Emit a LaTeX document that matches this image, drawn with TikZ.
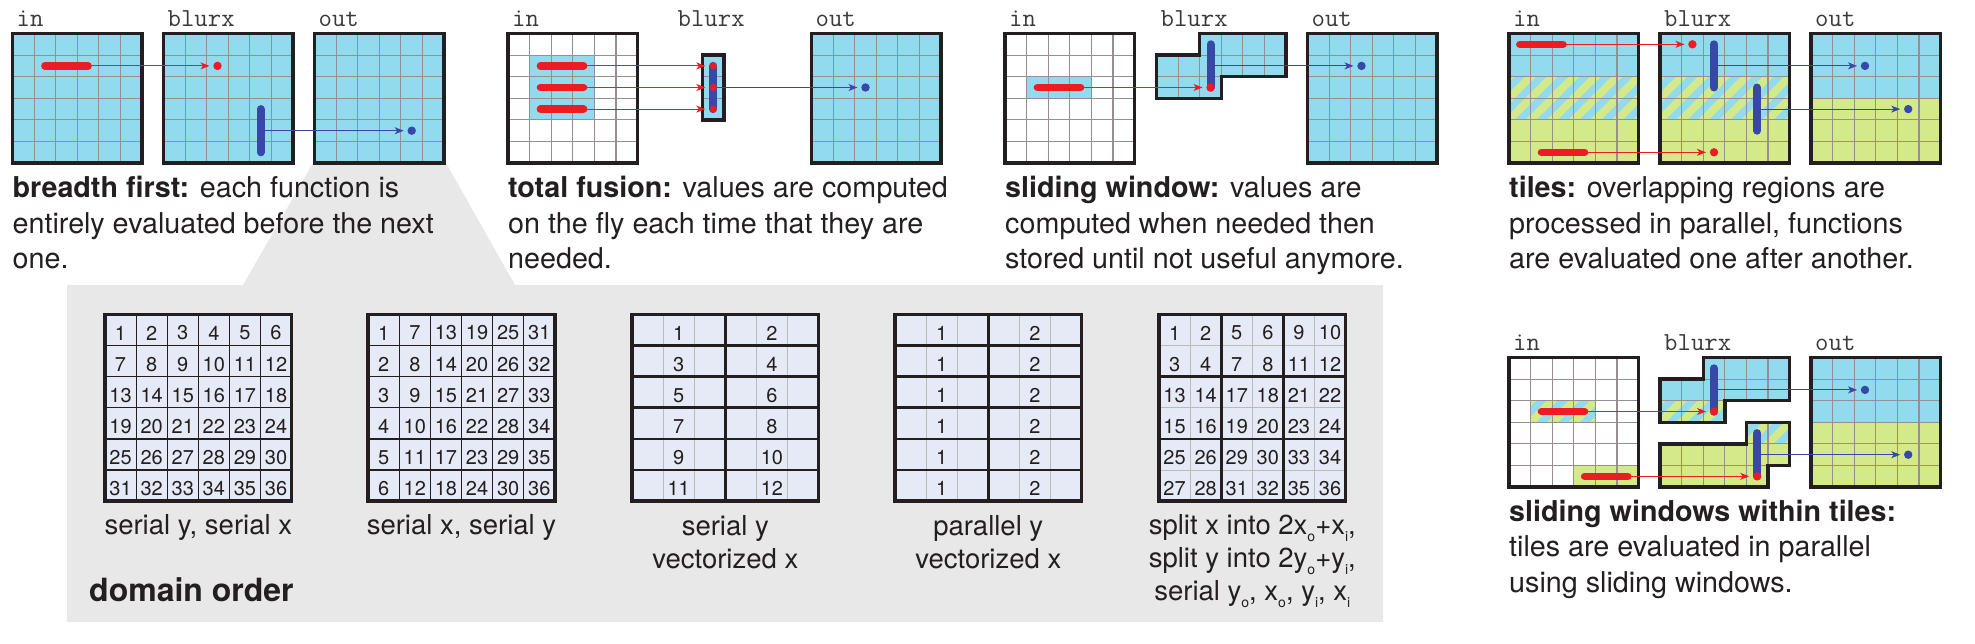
\documentclass[tikz,border=0pt]{standalone}
\usepackage{fontspec}
\setmainfont{TeX Gyre Heros}
\usetikzlibrary{arrows.meta}
\definecolor{lblue}{HTML}{92DAEE}
\definecolor{lgreen}{HTML}{D4EA8A}
\definecolor{redc}{HTML}{ED1C24}
\definecolor{bluec}{HTML}{3848A6}
\definecolor{gridc}{HTML}{978E92}
\definecolor{bord}{HTML}{231F20}
\definecolor{txt}{HTML}{231F20}
\definecolor{labc}{HTML}{3A3A3A}
\definecolor{panelg}{HTML}{E8E8E8}
\definecolor{cellf}{HTML}{E6EAF6}
\definecolor{lightg}{HTML}{BBBBBB}
\newcommand{\myCapFont}{\fontsize{28.7}{35.5}\selectfont}
\newcommand{\myLabFont}{\ttfamily\fontsize{26}{26}\selectfont}
\newcommand{\myNumFont}{\fontsize{20}{20}\selectfont}
\newcommand{\myDcapFont}{\fontsize{27.5}{33}\selectfont}
\newcommand{\myDomFont}{\bfseries\fontsize{32}{32}\selectfont}
\newcommand{\mysub}[1]{\raisebox{-7pt}{\fontsize{14}{14}\selectfont #1}}
% small grid lines
\newcommand{\cOne}{21.6}\newcommand{\cTwo}{43.2}\newcommand{\cThr}{64.8}
\newcommand{\cFou}{86.4}\newcommand{\cFiv}{108}\newcommand{\cSix}{129.6}
% small cell centres
\newcommand{\kOne}{10.8}\newcommand{\kTwo}{32.4}\newcommand{\kThr}{54}
\newcommand{\kFou}{75.6}\newcommand{\kFiv}{97.2}\newcommand{\kSix}{118.8}
% domain grid
\newcommand{\dOne}{31.1}\newcommand{\dTwo}{62.2}\newcommand{\dThr}{93.3}
\newcommand{\dFou}{124.4}\newcommand{\dFiv}{155.5}\newcommand{\dSix}{186.6}
\newcommand{\myglines}{\foreach \i in {\cOne,\cTwo,\cThr,\cFou,\cFiv}{\draw[gline] (\i,0) -- (\i,\cSix); \draw[gline] (0,\i) -- (\cSix,\i);}}
\newcommand{\myborder}{\draw[gborder] (0,0) rectangle (\cSix,\cSix);}
\newcommand{\myhatch}[4]{%
  \begin{scope}
    \clip (#1,#2) rectangle ++(#3,#4);
    \fill[lblue] (#1,#2) rectangle ++(#3,#4);
    \foreach \k in {-4,...,8}{%
      \draw[draw=lgreen, line width=7.8pt] ({#1+\k*21.6-10},{#2+#4+10}) -- ++({#4+20},{-#4-20});
    }
  \end{scope}}
\tikzset{
  gline/.style={draw=gridc, line width=1.1pt},
  gborder/.style={draw=bord, line width=3.4pt},
  rbar/.style={draw=redc, line width=7.5pt, line cap=round},
  bbar/.style={draw=bluec, line width=8pt, line cap=round},
  rarr/.style={draw=redc, line width=1.1pt, -{Stealth[length=9pt,width=7pt,inset=2.5pt]}, shorten >=8pt},
  barr/.style={draw=bluec, line width=1.1pt, -{Stealth[length=9pt,width=7pt,inset=2.5pt]}, shorten >=8pt},
  captxt/.style={anchor=base west, align=left, inner sep=0pt, font=\myCapFont, text=txt},
  labtxt/.style={anchor=base west, inner sep=0pt, font=\myLabFont, text=labc},
  numtxt/.style={inner sep=0pt, font=\myNumFont, text=txt},
  dcaptxt/.style={anchor=base, align=center, inner sep=0pt, font=\myDcapFont, text=txt},
  dthin/.style={draw=txt, line width=1.2pt},
  dlight/.style={draw=lightg, line width=1pt},
  dthick/.style={draw=txt, line width=2.8pt},
  dborder/.style={draw=txt, line width=3.5pt},
  Ltop/.style={insert path={(\cTwo,0) -- (\cSix,0) -- (\cSix,\cTwo) -- (\cThr,\cTwo) -- (\cThr,\cThr) -- (0,\cThr) -- (0,\cOne) -- (\cTwo,\cOne) -- cycle}},
  Lbot/.style={insert path={(\cFou,\cThr) -- (\cSix,\cThr) -- (\cSix,\cFiv) -- (\cFiv,\cFiv) -- (\cFiv,\cSix) -- (0,\cSix) -- (0,\cFou) -- (\cFou,\cFou) -- cycle}},
}
\begin{document}
\begin{tikzpicture}[x=1pt,y=-1pt]
\useasboundingbox (0,0) rectangle (1975,643);
% grey domain-order panel
\fill[panelg] (313,163) -- (446,163) -- (515,285) -- (1383,285) -- (1383,622) -- (67,622) -- (67,285) -- (243,285) -- cycle;

%================ breadth first
\begin{scope}[shift={(12.5,33.5)}]
  \fill[lblue] (0,0) rectangle (\cSix,\cSix);
  \myglines \myborder
  \node[labtxt] (bfLin) at (4,-7.5) {in};
  \coordinate (bfRs) at (\kTwo,\kTwo);
  \coordinate (bfRe) at (\kFou,\kTwo);
\end{scope}
\begin{scope}[shift={(163.5,33.5)}]
  \fill[lblue] (0,0) rectangle (\cSix,\cSix);
  \myglines \myborder
  \node[labtxt] (bfLbl) at (4,-7.5) {blurx};
  \coordinate (bfRd) at (\kThr,\kTwo);
  \coordinate (bfBs) at (\kFiv,\kFou);
  \coordinate (bfBe) at (\kFiv,\kSix);
  \coordinate (bfBm) at (\kFiv,\kFiv);
\end{scope}
\begin{scope}[shift={(314.5,33.5)}]
  \fill[lblue] (0,0) rectangle (\cSix,\cSix);
  \myglines \myborder
  \node[labtxt] (bfLout) at (4,-7.5) {out};
  \coordinate (bfBd) at (\kFiv,\kFiv);
\end{scope}
\draw[rbar] (bfRs) -- (bfRe);
\draw[bbar] (bfBs) -- (bfBe);
\draw[rarr] (bfRe) -- (bfRd);
\fill[redc] (bfRd) circle[radius=4.2];
\draw[barr] (bfBm) -- (bfBd);
\fill[bluec] (bfBd) circle[radius=4.2];
\node[captxt] (bfCap) at (12.5,268.5) {\textbf{breadth first:} each function is\\entirely evaluated before the next\\one.};

%================ total fusion
\begin{scope}[shift={(508,33.5)}]
  \fill[lblue] (\cOne,\cOne) rectangle (\cFou,\cFou);
  \myglines \myborder
  \node[labtxt] (tfLin) at (4,-7.5) {in};
  \coordinate (tfRsa) at (\kTwo,\kTwo); \coordinate (tfRea) at (\kFou,\kTwo);
  \coordinate (tfRsb) at (\kTwo,\kThr); \coordinate (tfReb) at (\kFou,\kThr);
  \coordinate (tfRsc) at (\kTwo,\kFou); \coordinate (tfRec) at (\kFou,\kFou);
\end{scope}
\begin{scope}[shift={(702.5,33.5)}]
  \fill[lblue] (0,\cOne) rectangle (\cOne,\cFou);
  \draw[gline] (0,\cTwo) -- (\cOne,\cTwo);
  \draw[gline] (0,\cThr) -- (\cOne,\cThr);
  \draw[gborder] (0,\cOne) rectangle (\cOne,\cFou);
  \node[labtxt] (tfLbl) at (-25,-7.5) {blurx};
  \coordinate (tfDa) at (\kOne,\kTwo);
  \coordinate (tfDb) at (\kOne,\kThr);
  \coordinate (tfDc) at (\kOne,\kFou);
\end{scope}
\begin{scope}[shift={(811.5,33.5)}]
  \fill[lblue] (0,0) rectangle (\cSix,\cSix);
  \myglines \myborder
  \node[labtxt] (tfLout) at (4,-7.5) {out};
  \coordinate (tfBd) at (\kThr,\kThr);
\end{scope}
\draw[rbar] (tfRsa) -- (tfRea);
\draw[rbar] (tfRsb) -- (tfReb);
\draw[rbar] (tfRsc) -- (tfRec);
\draw[bbar] (tfDa) -- (tfDc);
\draw[rarr] (tfRea) -- (tfDa);
\draw[rarr] (tfReb) -- (tfDb);
\draw[rarr] (tfRec) -- (tfDc);
\draw[barr] (tfDb) -- (tfBd);
\fill[redc] (tfDa) circle[radius=3.6];
\fill[redc] (tfDb) circle[radius=3.6];
\fill[redc] (tfDc) circle[radius=3.6];
\fill[bluec] (tfBd) circle[radius=4.2];
\node[captxt] (tfCap) at (508,268.5) {\textbf{total fusion:} values are computed\\on the fly each time that they are\\needed.};

%================ sliding window
\begin{scope}[shift={(1005,33.5)}]
  \fill[lblue] (\cOne,\cTwo) rectangle (\cFou,\cThr);
  \myglines \myborder
  \node[labtxt] (swLin) at (4,-7.5) {in};
  \coordinate (swRs) at (\kTwo,\kThr); \coordinate (swRe) at (\kFou,\kThr);
\end{scope}
\begin{scope}[shift={(1156.5,33.5)}]
  \fill[lblue, Ltop];
  \begin{scope}
    \clip[Ltop];
    \myglines
  \end{scope}
  \draw[gborder, Ltop];
  \node[labtxt] (swLbl) at (4,-7.5) {blurx};
  \coordinate (swBs) at (\kThr,\kOne);
  \coordinate (swBm) at (\kThr,\kTwo);
  \coordinate (swRd) at (\kThr,\kThr);
\end{scope}
\begin{scope}[shift={(1307.5,33.5)}]
  \fill[lblue] (0,0) rectangle (\cSix,\cSix);
  \myglines \myborder
  \node[labtxt] (swLout) at (4,-7.5) {out};
  \coordinate (swBd) at (\kThr,\kTwo);
\end{scope}
\draw[rbar] (swRs) -- (swRe);
\draw[bbar] (swBs) -- (swRd);
\draw[rarr] (swRe) -- (swRd);
\draw[barr] (swBm) -- (swBd);
\fill[redc] (swRd) circle[radius=4.2];
\fill[bluec] (swBd) circle[radius=4.2];
\node[captxt] (swCap) at (1005,268.5) {\textbf{sliding window:} values are\\computed when needed then\\stored until not useful anymore.};

%================ tiles
\begin{scope}[shift={(1509,33.5)}]
  \fill[lblue] (0,0) rectangle (\cSix,\cTwo);
  \myhatch{0}{\cTwo}{\cSix}{\cTwo}
  \fill[lgreen] (0,\cFou) rectangle (\cSix,\cSix);
  \myglines \myborder
  \node[labtxt] (tiLin) at (4,-7.5) {in};
  \coordinate (tiRsa) at (\kOne,\kOne); \coordinate (tiRea) at (\kThr,\kOne);
  \coordinate (tiRsb) at (\kTwo,\kSix); \coordinate (tiReb) at (\kFou,\kSix);
\end{scope}
\begin{scope}[shift={(1660,33.5)}]
  \fill[lblue] (0,0) rectangle (\cSix,\cTwo);
  \myhatch{0}{\cTwo}{\cSix}{\cTwo}
  \fill[lgreen] (0,\cFou) rectangle (\cSix,\cSix);
  \myglines \myborder
  \node[labtxt] (tiLbl) at (4,-7.5) {blurx};
  \coordinate (tiRda) at (\kTwo,\kOne);
  \coordinate (tiRdb) at (\kThr,\kSix);
  \coordinate (tiBsa) at (\kThr,\kOne); \coordinate (tiBma) at (\kThr,\kTwo); \coordinate (tiBea) at (\kThr,\kThr);
  \coordinate (tiBsb) at (\kFiv,\kThr); \coordinate (tiBmb) at (\kFiv,\kFou); \coordinate (tiBeb) at (\kFiv,\kFiv);
\end{scope}
\begin{scope}[shift={(1811,33.5)}]
  \fill[lblue] (0,0) rectangle (\cSix,\cThr);
  \fill[lgreen] (0,\cThr) rectangle (\cSix,\cSix);
  \myglines \myborder
  \node[labtxt] (tiLout) at (4,-7.5) {out};
  \coordinate (tiBda) at (\kThr,\kTwo);
  \coordinate (tiBdb) at (\kFiv,\kFou);
\end{scope}
\draw[rbar] (tiRsa) -- (tiRea);
\draw[rbar] (tiRsb) -- (tiReb);
\draw[bbar] (tiBsa) -- (tiBea);
\draw[bbar] (tiBsb) -- (tiBeb);
\draw[rarr] (tiRea) -- (tiRda);
\draw[rarr] (tiReb) -- (tiRdb);
\draw[barr] (tiBma) -- (tiBda);
\draw[barr] (tiBmb) -- (tiBdb);
\fill[redc] (tiRda) circle[radius=4.2];
\fill[redc] (tiRdb) circle[radius=4.2];
\fill[bluec] (tiBda) circle[radius=4.2];
\fill[bluec] (tiBdb) circle[radius=4.2];
\node[captxt] (tiCap) at (1509,268.5) {\textbf{tiles:} overlapping regions are\\processed in parallel, functions\\are evaluated one after another.};

%================ sliding windows within tiles
\begin{scope}[shift={(1509,357.5)}]
  \myhatch{\cOne}{\cTwo}{\cThr}{\cOne}
  \fill[lgreen] (\cThr,\cFiv) rectangle (\cSix,\cSix);
  \myglines \myborder
  \node[labtxt] (stLin) at (4,-7.5) {in};
  \coordinate (stRsa) at (\kTwo,\kThr); \coordinate (stRea) at (\kFou,\kThr);
  \coordinate (stRsb) at (\kFou,\kSix); \coordinate (stReb) at (\kSix,\kSix);
\end{scope}
\begin{scope}[shift={(1660,357.5)}]
  \fill[lblue, Ltop];
  \myhatch{0}{\cTwo}{\cThr}{\cOne}
  \begin{scope}
    \clip[Ltop];
    \myglines
  \end{scope}
  \draw[gborder, Ltop];
  \fill[lgreen, Lbot];
  \myhatch{\cFou}{\cThr}{\cTwo}{\cOne}
  \begin{scope}
    \clip[Lbot];
    \myglines
  \end{scope}
  \draw[gborder, Lbot];
  \node[labtxt] (stLbl) at (4,-7.5) {blurx};
  \coordinate (stBsa) at (\kThr,\kOne); \coordinate (stBma) at (\kThr,\kTwo); \coordinate (stRda) at (\kThr,\kThr);
  \coordinate (stBsb) at (\kFiv,\kFou); \coordinate (stBmb) at (\kFiv,\kFiv); \coordinate (stRdb) at (\kFiv,\kSix);
\end{scope}
\begin{scope}[shift={(1811,357.5)}]
  \fill[lblue] (0,0) rectangle (\cSix,\cThr);
  \fill[lgreen] (0,\cThr) rectangle (\cSix,\cSix);
  \myglines \myborder
  \node[labtxt] (stLout) at (4,-7.5) {out};
  \coordinate (stBda) at (\kThr,\kTwo);
  \coordinate (stBdb) at (\kFiv,\kFiv);
\end{scope}
\draw[rbar] (stRsa) -- (stRea);
\draw[rbar] (stRsb) -- (stReb);
\draw[bbar] (stBsa) -- (stRda);
\draw[bbar] (stBsb) -- (stRdb);
\draw[rarr] (stRea) -- (stRda);
\draw[rarr] (stReb) -- (stRdb);
\draw[barr] (stBma) -- (stBda);
\draw[barr] (stBmb) -- (stBdb);
\fill[redc] (stRda) circle[radius=4.2];
\fill[redc] (stRdb) circle[radius=4.2];
\fill[bluec] (stBda) circle[radius=4.2];
\fill[bluec] (stBdb) circle[radius=4.2];
\node[captxt] (stCap) at (1509,592) {\textbf{sliding windows within tiles:}\\tiles are evaluated in parallel\\using sliding windows.};

%================ domain order grids
% grid 1: serial y, serial x
\begin{scope}[shift={(105,314.5)}]
  \fill[cellf] (0,0) rectangle (\dSix,\dSix);
  \foreach \i in {\dOne,\dTwo,\dThr,\dFou,\dFiv}{\draw[dthin] (\i,0) -- (\i,\dSix); \draw[dthin] (0,\i) -- (\dSix,\i);}
  \draw[dborder] (0,0) rectangle (\dSix,\dSix);
  \foreach \r in {0,...,5}{\foreach \q in {0,...,5}{%
    \pgfmathtruncatemacro{\n}{\r*6+\q+1}%
    \node[numtxt] (gA\r\q) at ({(\q+0.5)*31.1},{(\r+0.5)*31.1+3}) {\n};}}
  \node[dcaptxt] (gAcap) at (\dThr,219.5) {serial y, serial x};
\end{scope}
% grid 2: serial x, serial y
\begin{scope}[shift={(368.2,314.5)}]
  \fill[cellf] (0,0) rectangle (\dSix,\dSix);
  \foreach \i in {\dOne,\dTwo,\dThr,\dFou,\dFiv}{\draw[dthin] (\i,0) -- (\i,\dSix); \draw[dthin] (0,\i) -- (\dSix,\i);}
  \draw[dborder] (0,0) rectangle (\dSix,\dSix);
  \foreach \r in {0,...,5}{\foreach \q in {0,...,5}{%
    \pgfmathtruncatemacro{\n}{\q*6+\r+1}%
    \node[numtxt] (gB\r\q) at ({(\q+0.5)*31.1},{(\r+0.5)*31.1+3}) {\n};}}
  \node[dcaptxt] (gBcap) at (\dThr,219.5) {serial x, serial y};
\end{scope}
% grid 3: serial y, vectorized x
\begin{scope}[shift={(632,314.5)}]
  \fill[cellf] (0,0) rectangle (\dSix,\dSix);
  \foreach \i in {\dOne,\dTwo,\dFou,\dFiv}{\draw[dlight] (\i,0) -- (\i,\dSix);}
  \foreach \i in {\dOne,\dTwo,\dThr,\dFou,\dFiv}{\draw[dthick] (0,\i) -- (\dSix,\i);}
  \draw[dthick] (\dThr,0) -- (\dThr,\dSix);
  \draw[dborder] (0,0) rectangle (\dSix,\dSix);
  \foreach \r in {0,...,5}{%
    \pgfmathtruncatemacro{\na}{2*\r+1}\pgfmathtruncatemacro{\nb}{2*\r+2}%
    \node[numtxt] (gCa\r) at (46.65,{(\r+0.5)*31.1+3}) {\na};
    \node[numtxt] (gCb\r) at (139.95,{(\r+0.5)*31.1+3}) {\nb};}
  \node[dcaptxt] (gCcap) at (\dThr,253.5) {serial y\\vectorized x};
\end{scope}
% grid 4: parallel y, vectorized x
\begin{scope}[shift={(895,314.5)}]
  \fill[cellf] (0,0) rectangle (\dSix,\dSix);
  \foreach \i in {\dOne,\dTwo,\dFou,\dFiv}{\draw[dlight] (\i,0) -- (\i,\dSix);}
  \foreach \i in {\dOne,\dTwo,\dThr,\dFou,\dFiv}{\draw[dthick] (0,\i) -- (\dSix,\i);}
  \draw[dthick] (\dThr,0) -- (\dThr,\dSix);
  \draw[dborder] (0,0) rectangle (\dSix,\dSix);
  \foreach \r in {0,...,5}{%
    \node[numtxt] (gDa\r) at (46.65,{(\r+0.5)*31.1+3}) {1};
    \node[numtxt] (gDb\r) at (139.95,{(\r+0.5)*31.1+3}) {2};}
  \node[dcaptxt] (gDcap) at (\dThr,253.5) {parallel y\\vectorized x};
\end{scope}
% grid 5: split tiles
\begin{scope}[shift={(1159,314.5)}]
  \fill[cellf] (0,0) rectangle (\dSix,\dSix);
  \foreach \i in {\dOne,\dThr,\dFiv}{\draw[dlight] (\i,0) -- (\i,\dSix); \draw[dlight] (0,\i) -- (\dSix,\i);}
  \foreach \i in {\dTwo,\dFou}{\draw[dthick] (\i,0) -- (\i,\dSix); \draw[dthick] (0,\i) -- (\dSix,\i);}
  \draw[dborder] (0,0) rectangle (\dSix,\dSix);
  \foreach \r in {0,...,5}{\foreach \q in {0,...,5}{%
    \pgfmathtruncatemacro{\n}{int(\r/2)*12+int(\q/2)*4+mod(\r,2)*2+mod(\q,2)+1}%
    \node[numtxt] (gE\r\q) at ({(\q+0.5)*31.1},{(\r+0.5)*31.1+3}) {\n};}}
  \node[dcaptxt] (gEcap) at (\dThr,286) {split x into 2x\mysub{o}+x\mysub{i},\\split y into 2y\mysub{o}+y\mysub{i},\\serial y\mysub{o}, x\mysub{o}, y\mysub{i}, x\mysub{i}};
\end{scope}
\node[anchor=base west, inner sep=0pt, font=\myDomFont, text=txt] (domLab) at (89,601.7) {domain order};
\end{tikzpicture}
\end{document}
